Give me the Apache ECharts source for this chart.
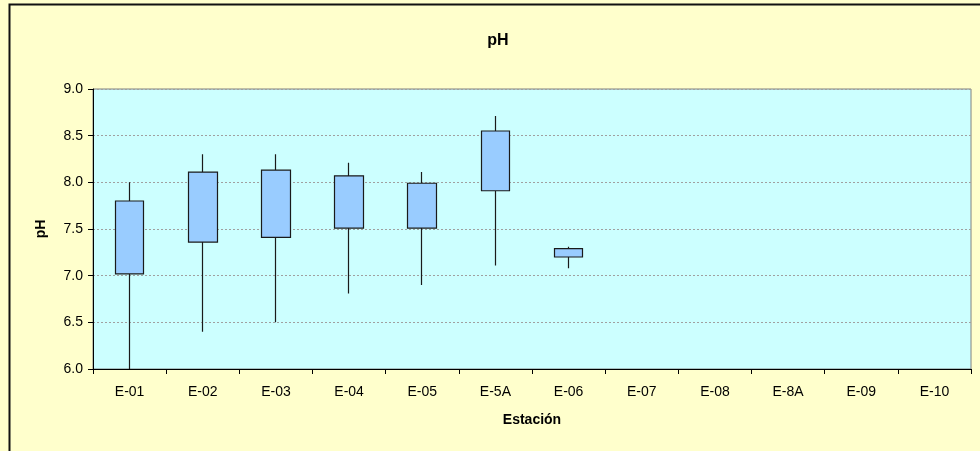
<!DOCTYPE html>
<html>
<head>
<meta charset="utf-8">
<script src="https://cdn.jsdelivr.net/npm/echarts@6/dist/echarts.min.js"></script>
<style>
html,body{margin:0;padding:0;background:#FFFFCC;}
#c{width:980px;height:451px;}
</style>
</head>
<body>
<div id="c"></div>
<script>
const categories = ['E-01','E-02','E-03','E-04','E-05','E-5A','E-06','E-07','E-08','E-8A','E-09','E-10'];
const boxLow      = [7.02, 7.36, 7.41, 7.51, 7.51, 7.91, 7.20, null, null, null, null, null];
const boxHigh     = [7.80, 8.11, 8.13, 8.07, 7.99, 8.55, 7.29, null, null, null, null, null];
const whiskerLow  = [6.00, 6.40, 6.50, 6.81, 6.90, 7.11, 7.08, null, null, null, null, null];
const whiskerHigh = [8.00, 8.30, 8.30, 8.21, 8.11, 8.71, 7.31, null, null, null, null, null];
const yTicks = ['6.0','6.5','7.0','7.5','8.0','8.5','9.0'];

const candleData = categories.map((c, i) =>
  boxLow[i] == null ? '-' : [boxLow[i], boxHigh[i], whiskerLow[i], whiskerHigh[i]]);

const font = 'Arial, "Liberation Sans", sans-serif';
const chart = echarts.init(document.getElementById('c'));
chart.setOption({
  backgroundColor: '#FFFFCC',
  animation: false,
  title: {
    text: 'pH', left: 493, top: 28, textAlign: 'center',
    textStyle: { fontFamily: font, fontSize: 16, fontWeight: 'bold', color: '#000' }
  },
  grid: {
    left: 93, right: 9, top: 89, bottom: 82,
    show: true, backgroundColor: '#CCFFFF', borderColor: '#808080', borderWidth: 1
  },
  xAxis: {
    type: 'category', data: categories, boundaryGap: true,
    name: 'Estación', nameLocation: 'middle', nameGap: 44,
    nameTextStyle: { fontFamily: font, fontSize: 14, fontWeight: 'bold', color: '#000' },
    axisLine: { lineStyle: { color: '#000', width: 1 } },
    axisTick: { show: true, length: 5, lineStyle: { color: '#000' } },
    axisLabel: { fontFamily: font, fontSize: 14, color: '#000', margin: 16, interval: 0 },
    splitLine: { show: false }
  },
  yAxis: {
    type: 'value', min: 6.0, max: 9.0, interval: 0.5,
    name: 'pH', nameLocation: 'middle', nameGap: 45, nameRotate: 90,
    nameTextStyle: { fontFamily: font, fontSize: 14, fontWeight: 'bold', color: '#000' },
    axisLine: { show: true, lineStyle: { color: '#000', width: 1 } },
    axisTick: { show: true, length: 5, lineStyle: { color: '#000' } },
    axisLabel: { fontFamily: font, fontSize: 14, color: '#000', margin: 10,
      formatter: v => yTicks.find(t => Math.abs(parseFloat(t) - v) < 1e-6) || '' },
    splitLine: { show: true, lineStyle: { color: '#a0a0a0', type: [2, 2], width: 1 } }
  },
  series: [{
    type: 'candlestick',
    data: candleData,
    barWidth: 29,
    itemStyle: {
      color: '#99CCFF', color0: '#99CCFF',
      borderColor: '#1a1a1a', borderColor0: '#1a1a1a', borderWidth: 1.2
    }
  }],
  graphic: [{
    type: 'rect', silent: true,
    shape: { x: 9.5, y: 4.5, width: 1000, height: 500 },
    style: { fill: 'none', stroke: '#111', lineWidth: 2 }
  }]
});
</script>
</body>
</html>
